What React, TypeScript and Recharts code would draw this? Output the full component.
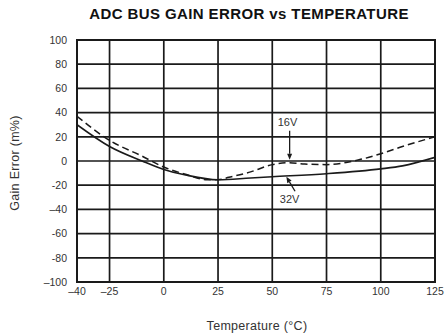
import React from 'react';
import {
  LineChart,
  Line,
  XAxis,
  YAxis,
  CartesianGrid,
  ReferenceArea,
  ReferenceLine,
  ReferenceDot,
} from 'recharts';

// 16V (dashed) curve
const TEMP_16V = [-40, -25, -10, 0, 10, 20, 25, 30, 40, 50, 57, 65, 75, 90, 100, 110, 125];
const GAIN_16V = [37, 17, 4, -5, -11, -15.5, -15.5, -13.5, -9, -3, -1.5, -2.5, -3, 1, 6, 12, 20];

// 32V (solid) curve
const TEMP_32V = [-40, -25, -10, 0, 10, 25, 40, 50, 75, 100, 110, 125];
const GAIN_32V = [30, 12, 0, -7, -11.5, -15.5, -14, -13, -10.5, -6.5, -4, 3];

const X_TICKS = [-40, -25, 0, 25, 50, 75, 100, 125];
const Y_TICKS = [-100, -80, -60, -40, -20, 0, 20, 40, 60, 80, 100];

const FONT = '"Liberation Sans", Arial, sans-serif';
const INK = '#1a1a1a';

const data16 = TEMP_16V.map((t, i) => ({ t, v: GAIN_16V[i] }));
const data32 = TEMP_32V.map((t, i) => ({ t, v: GAIN_32V[i] }));

const fmt = (v: number) => {
  if (v >= 0) return String(v);
  const dash = v === -100 || v === -40 || v === -25 ? '\u2013' : '-';
  return dash + Math.abs(v);
};

// line with a small arrowhead at (x2, y2)
const Arrow = (p: any) => {
  const { x1, y1, x2, y2 } = p;
  const a = Math.atan2(y2 - y1, x2 - x1);
  const L = 6;
  const W = 2.5;
  const bx = x2 - L * Math.cos(a);
  const by = y2 - L * Math.sin(a);
  const px = -Math.sin(a) * W;
  const py = Math.cos(a) * W;
  return (
    <g>
      <line x1={x1} y1={y1} x2={bx} y2={by} stroke={INK} strokeWidth={1.3} />
      <polygon points={`${x2},${y2} ${bx + px},${by + py} ${bx - px},${by - py}`} fill={INK} />
    </g>
  );
};

const tag = (text: string) => (p: any) => (
  <text x={p.cx} y={p.cy} textAnchor="middle" dominantBaseline="central" fontSize={11} fill="#333" fontFamily={FONT}>
    {text}
  </text>
);

export default function App() {
  return (
    <div style={{ position: 'absolute', left: 0, top: 0, width: 447, height: 335, background: '#fff', fontFamily: FONT }}>
      <div
        style={{
          position: 'absolute',
          left: 0,
          width: 498,
          top: 5,
          textAlign: 'center',
          fontSize: 15,
          letterSpacing: 0.4,
          fontWeight: 'bold',
          color: '#111',
        }}
      >
        ADC BUS GAIN ERROR vs TEMPERATURE
      </div>
      <div
        style={{
          position: 'absolute',
          left: 15,
          top: 163,
          transform: 'translate(-50%, -50%) rotate(-90deg)',
          whiteSpace: 'nowrap',
          fontSize: 12.5,
          letterSpacing: 0.3,
          color: '#333',
        }}
      >
        Gain Error (m%)
      </div>
      <div
        style={{
          position: 'absolute',
          left: 257,
          top: 326,
          transform: 'translate(-50%, -50%)',
          whiteSpace: 'nowrap',
          fontSize: 12.5,
          letterSpacing: 0.3,
          color: '#333',
        }}
      >
        Temperature (°C)
      </div>
      <LineChart width={447} height={335} margin={{ top: 40, right: 12, bottom: 0, left: 30 }}>
        <CartesianGrid stroke={INK} strokeWidth={1.7} />
        <XAxis
          type="number"
          dataKey="t"
          domain={[-40, 125]}
          ticks={X_TICKS}
          tickFormatter={fmt}
          tickLine={false}
          axisLine={false}
          tickSize={4}
          tickMargin={2}
          height={53}
          tick={{ fontSize: 10.5, fill: '#333', fontFamily: FONT }}
          allowDataOverflow
        />
        <YAxis
          type="number"
          domain={[-100, 100]}
          ticks={Y_TICKS}
          tickFormatter={fmt}
          tickLine={false}
          axisLine={false}
          tickSize={8}
          tickMargin={2}
          width={47}
          tick={{ fontSize: 10.5, fill: '#333', fontFamily: FONT }}
          allowDataOverflow
        />
        <ReferenceArea x1={-40} x2={125} y1={-100} y2={100} fill="none" stroke={INK} strokeWidth={2} />
        <Line
          data={data16}
          dataKey="v"
          type="monotone"
          stroke={INK}
          strokeWidth={1.5}
          strokeDasharray="7 4"
          dot={false}
          isAnimationActive={false}
        />
        <Line
          data={data32}
          dataKey="v"
          type="monotone"
          stroke={INK}
          strokeWidth={1.6}
          dot={false}
          isAnimationActive={false}
        />
        <ReferenceLine segment={[{ x: 58, y: 25 }, { x: 58, y: 1 }]} shape={Arrow} />
        <ReferenceLine segment={[{ x: 60.5, y: -25 }, { x: 56.5, y: -13 }]} shape={Arrow} />
        <ReferenceDot x={57} y={32} r={0} shape={tag('16V')} />
        <ReferenceDot x={58} y={-31} r={0} shape={tag('32V')} />
      </LineChart>
    </div>
  );
}
